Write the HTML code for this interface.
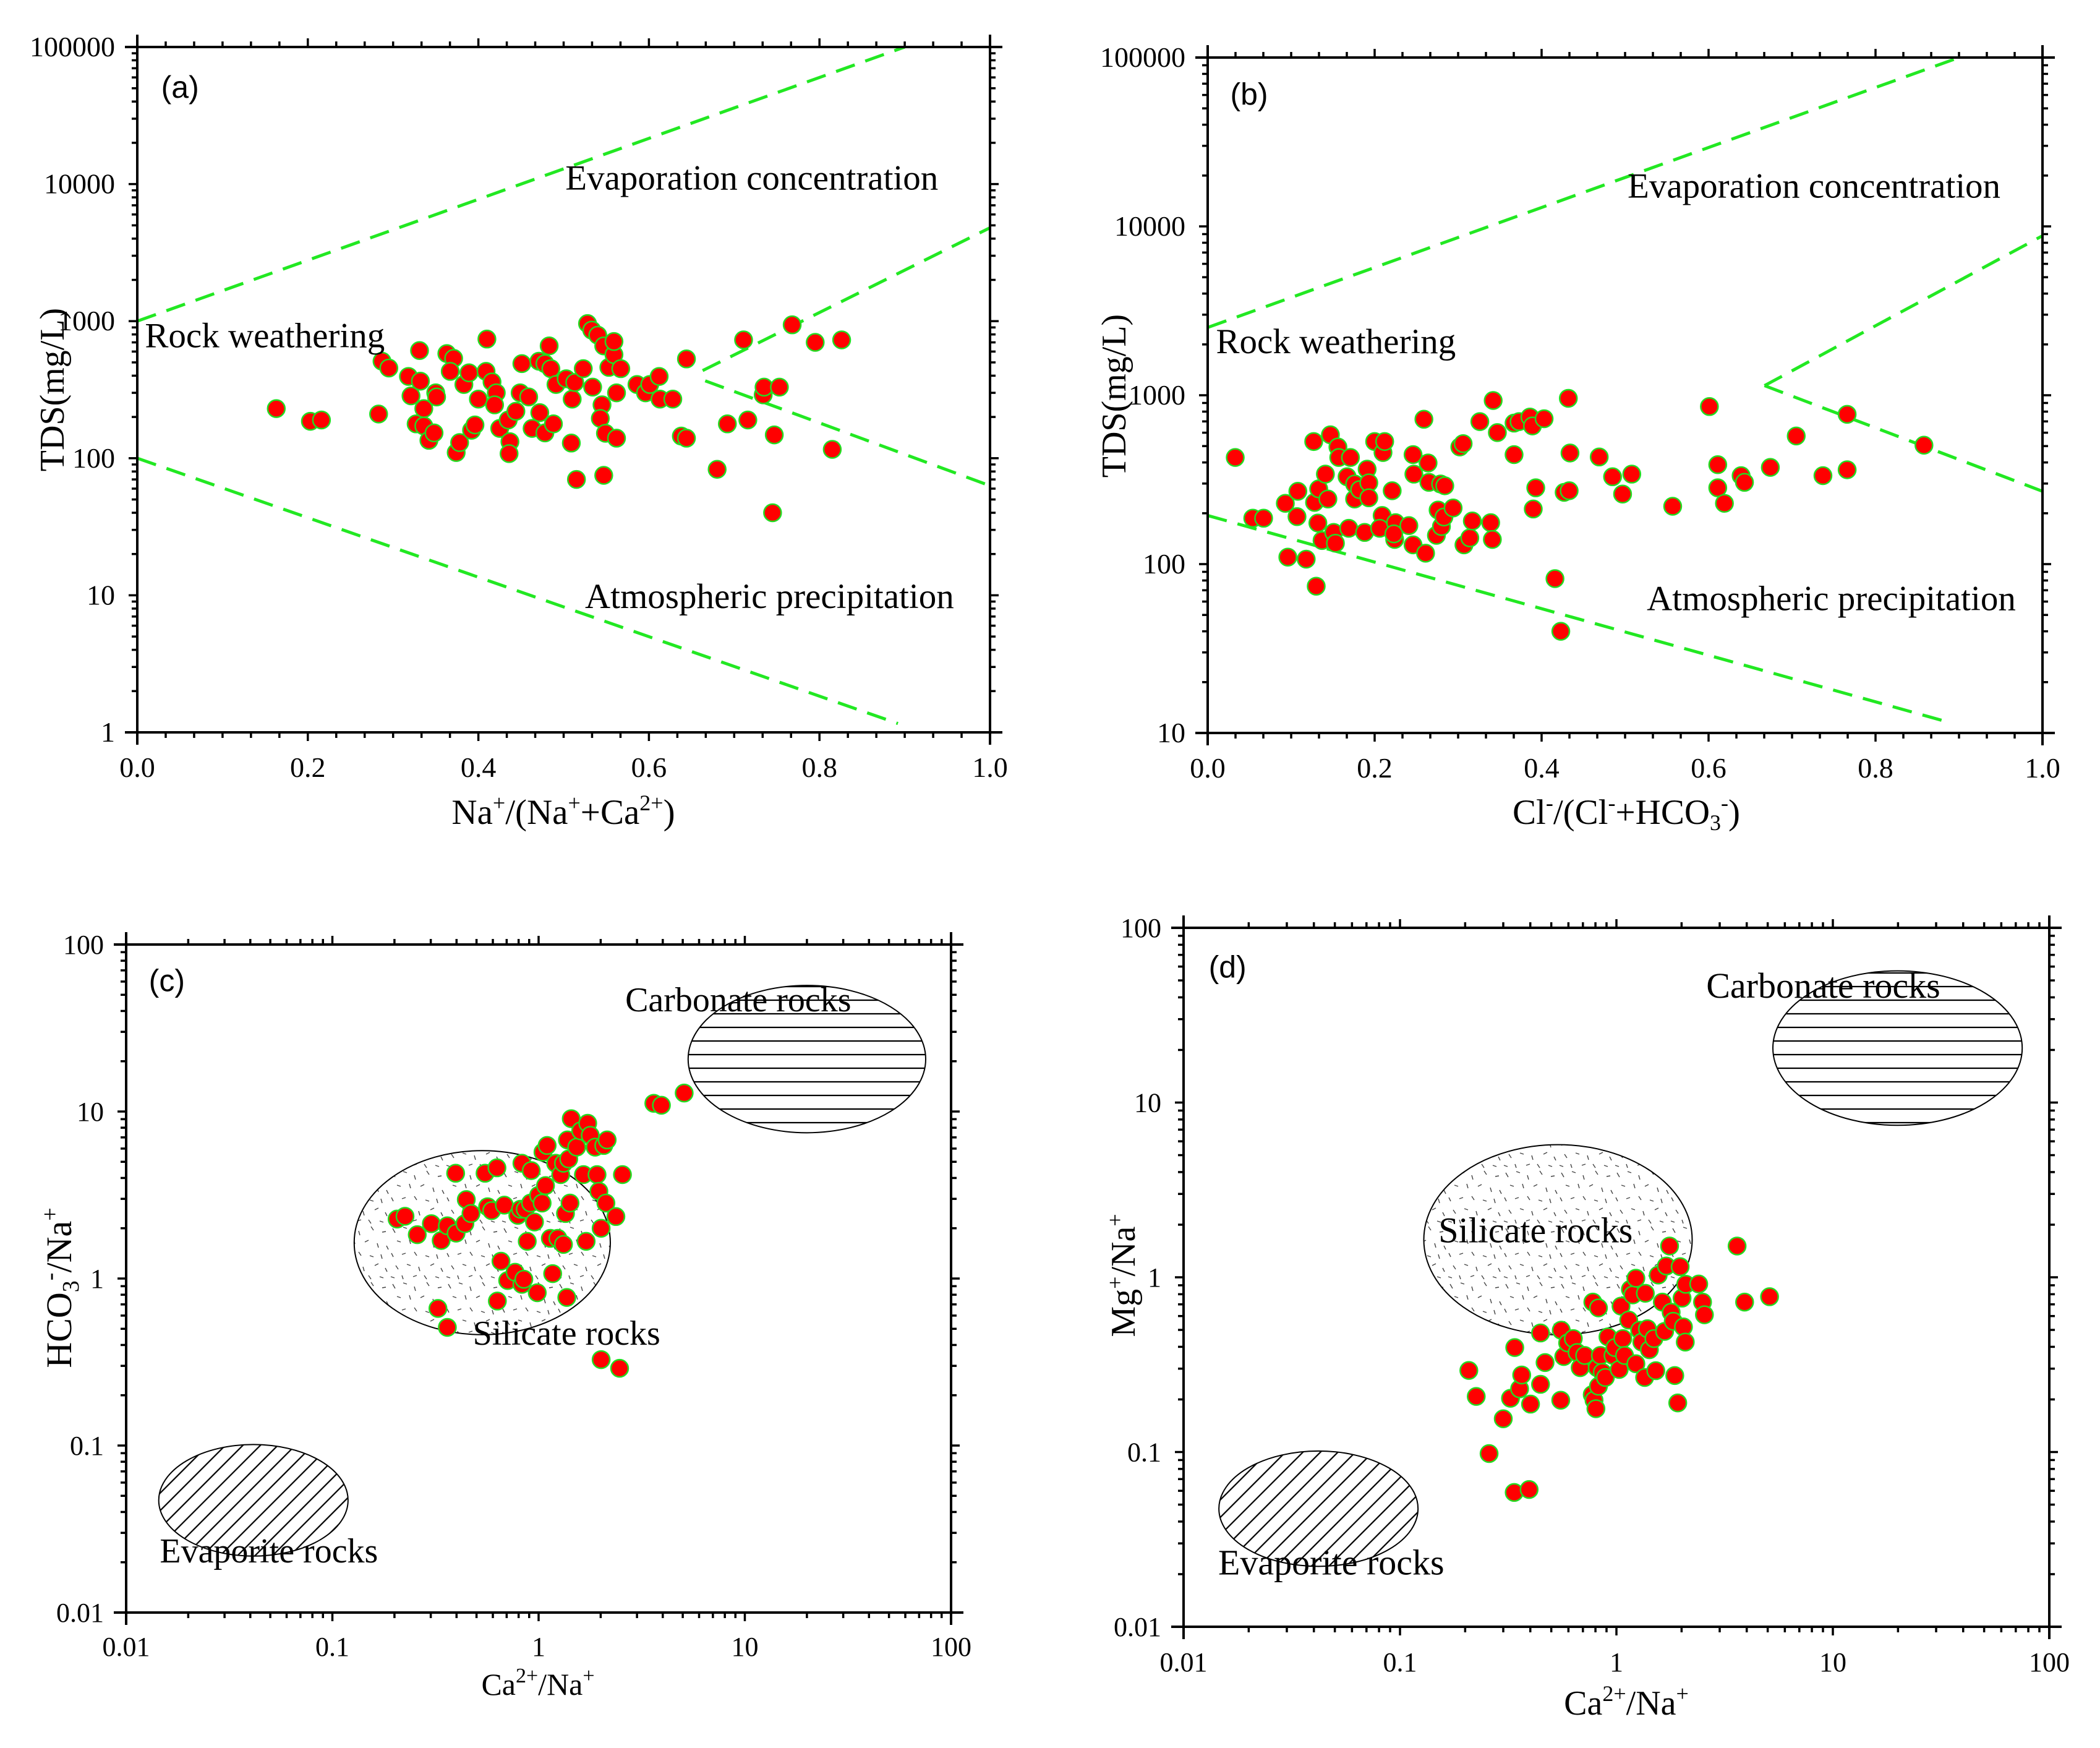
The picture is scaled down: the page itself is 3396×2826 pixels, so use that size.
<!DOCTYPE html>
<html><head><meta charset="utf-8"><style>
html,body{margin:0;padding:0;background:#fff;}
svg{display:block;}
text{font-family:"Liberation Serif",serif;fill:#000;}
.sans{font-family:"Liberation Sans",sans-serif;}
</style></head>
<body>
<svg id="fig" xmlns="http://www.w3.org/2000/svg" width="3396" height="2826" viewBox="0 0 3396 2826">
<defs>
<pattern id="hlines" patternUnits="userSpaceOnUse" width="40" height="22"><line x1="0" y1="11" x2="40" y2="11" stroke="#000" stroke-width="2.2"/></pattern>
<pattern id="dlines" patternUnits="userSpaceOnUse" width="20" height="20" patternTransform="rotate(-45)"><line x1="0" y1="10" x2="20" y2="10" stroke="#000" stroke-width="2.2"/></pattern>
<pattern id="stipple" patternUnits="userSpaceOnUse" width="90" height="90">
<g stroke="#444" stroke-width="1.4">
<line x1="5" y1="6" x2="9" y2="13"/><line x1="22" y1="4" x2="28" y2="6"/><line x1="40" y1="10" x2="42" y2="17"/><line x1="60" y1="3" x2="64" y2="9"/><line x1="78" y1="12" x2="84" y2="11"/>
<line x1="12" y1="26" x2="18" y2="28"/><line x1="32" y1="24" x2="34" y2="31"/><line x1="50" y1="28" x2="56" y2="25"/><line x1="70" y1="30" x2="72" y2="37"/><line x1="85" y1="34" x2="88" y2="40"/>
<line x1="3" y1="46" x2="6" y2="52"/><line x1="20" y1="48" x2="26" y2="46"/><line x1="40" y1="44" x2="44" y2="50"/><line x1="58" y1="50" x2="64" y2="52"/><line x1="76" y1="48" x2="78" y2="55"/>
<line x1="10" y1="66" x2="14" y2="72"/><line x1="28" y1="64" x2="34" y2="66"/><line x1="47" y1="68" x2="49" y2="75"/><line x1="66" y1="66" x2="72" y2="63"/><line x1="83" y1="70" x2="86" y2="76"/>
<line x1="2" y1="84" x2="8" y2="86"/><line x1="20" y1="82" x2="22" y2="88"/><line x1="38" y1="84" x2="44" y2="82"/><line x1="56" y1="82" x2="60" y2="88"/><line x1="74" y1="84" x2="80" y2="86"/>
</g></pattern>
</defs>
<g id="layer"></g>
</svg>
<script>
// ---- Panel (a) data ----
const aX=[.163,.203,.216,.283,.287,.295,.331,.318,.321,.332,.327,.336,.336,.342,.348,.350,.351,.363,.371,.367,.374,.378,.383,.389,.392,.396,.400,.410,.409,.416,.421,.419,.425,.435,.437,.436,.444,.449,.451,.459,.463,.472,.471,.478,.478,.483,.485,.488,.491,.503,.510,.509,.515,.513,.523,.528,.533,.540,.534,.547,.545,.543,.549,.547,.553,.559,.559,.562,.567,.562,.586,.596,.601,.612,.613,.628,.638,.644,.644,.680,.692,.716,.711,.734,.735,.753,.747,.745,.768,.795,.815,.826];
const aY=[230,186,190,210,510,455,610,395,285,365,178,172,230,135,153,300,280,580,535,430,110,130,345,420,160,175,270,740,430,360,300,245,165,190,132,108,220,300,490,280,165,215,510,490,153,660,450,178,345,380,270,129,70,357,450,960,860,790,330,660,245,195,152,75,460,570,710,300,450,140,345,300,345,395,270,270,145,140,530,83,178,190,730,290,330,330,148,40,940,700,116,730];
// ---- Panel (b) data ----
const bX=[.033,.054,.067,.093,.096,.108,.107,.118,.127,.128,.130,.133,.132,.137,.141,.144,.147,.151,.153,.156,.157,.169,.167,.171,.176,.176,.182,.188,.191,.193,.193,.200,.210,.212,.209,.206,.221,.224,.225,.223,.241,.246,.247,.246,.259,.261,.264,.265,.274,.276,.279,.280,.283,.284,.294,.302,.306,.307,.314,.317,.326,.339,.341,.342,.347,.367,.367,.373,.386,.389,.390,.393,.403,.416,.423,.427,.432,.434,.433,.469,.485,.497,.508,.557,.601,.611,.611,.619,.639,.643,.674,.705,.737,.766,.766,.858];
const bY=[428,187,187,229,110,270,191,107,532,232,74,279,175,138,341,243,583,154,133,494,428,163,329,428,298,243,276,154,365,303,247,532,458,532,194,163,272,140,176,151,169,445,341,130,721,116,397,305,148,209,298,167,190,291,215,494,517,130,143,180,698,176,140,931,601,684,445,698,743,658,212,283,726,82,40,266,959,455,272,431,329,260,341,220,857,388,283,229,334,305,374,574,334,771,362,506];
// ---- Panel (c) data ----
const cX=[.206,.225,.258,.302,.337,.361,.398,.396,.439,.446,.47,.325,.361,.55,.566,.592,.628,.657,.631,.682,.708,.769,.793,.817,.83,.83,.848,.861,.881,.914,.921,.955,.985,1.0,1.04,1.05,1.08,1.10,1.14,1.17,1.21,1.24,1.28,1.32,1.32,1.35,1.37,1.38,1.40,1.42,1.44,1.53,1.60,1.65,1.70,1.73,1.78,1.88,1.92,1.96,2.01,2.01,2.07,2.12,2.15,2.37,2.47,2.55,3.62,3.94,5.08];
const cY=[2.27,2.36,1.83,2.13,1.69,2.07,1.87,4.27,2.13,2.97,2.45,.662,.510,4.27,2.69,2.55,4.60,1.27,.733,2.75,.973,1.09,2.39,2.60,4.90,.923,.99,2.60,1.67,2.83,4.43,2.18,.822,3.15,2.83,5.71,3.60,6.26,1.74,1.07,4.90,1.74,4.19,4.90,1.60,2.45,.77,6.76,5.2,2.83,9.06,6.12,7.66,4.19,1.67,8.5,7.2,6.12,4.19,3.33,2.0,.327,6.26,2.83,6.76,2.35,.29,4.19,11.2,10.9,12.9];
// ---- Panel (d) data ----
const dX=[.208,.225,.258,.30,.324,.337,.395,.339,.357,.365,.401,.446,.446,.468,.553,.556,.571,.595,.632,.658,.68,.713,.773,.778,.788,.804,.815,.826,.826,.843,.860,.889,.914,.964,.984,1.03,1.05,1.07,1.09,1.14,1.16,1.19,1.23,1.23,1.28,1.31,1.35,1.36,1.39,1.42,1.49,1.52,1.56,1.63,1.67,1.70,1.76,1.79,1.83,1.86,1.92,1.97,2.01,2.04,2.08,2.09,2.40,2.50,2.55,3.61,3.91,5.1];
const dY=[.293,.208,.098,.155,.203,.0587,.061,.396,.230,.276,.188,.48,.244,.325,.198,.498,.352,.421,.446,.371,.304,.357,.213,.721,.198,.177,.304,.668,.238,.357,.286,.267,.456,.357,.396,.297,.684,.446,.357,.569,.853,.793,.988,.320,.498,.426,.267,.81,.508,.385,.446,.292,1.03,.721,.49,1.16,1.51,.631,.56,.274,.191,1.15,.76,.52,.426,.912,.915,.721,.61,1.51,.721,.774];
// ---- tick labels ----
const linTicks=[0,0.2,0.4,0.6,0.8,1.0];
const linTickLabels=["0.0","0.2","0.4","0.6","0.8","1.0"];
const tdsTicksA=[1,10,100,1000,10000,100000];
const tdsTicksB=[10,100,1000,10000,100000];
const logTicks=[0.01,0.1,1,10,100];
const logTickLabels=["0.01","0.1","1","10","100"];

const NS="http://www.w3.org/2000/svg";
const layer=document.getElementById('layer');
function mk(tag,attrs,parent){const e=document.createElementNS(NS,tag);for(const k in attrs)e.setAttribute(k,attrs[k]);(parent||layer).appendChild(e);return e;}
const L10=Math.log10;

function makePanel(c){
  c.sx=v=>c.xlog?c.x0+(L10(v)-L10(c.xmin))/(L10(c.xmax)-L10(c.xmin))*(c.x1-c.x0):c.x0+(v-c.xmin)/(c.xmax-c.xmin)*(c.x1-c.x0);
  c.sy=v=>c.y1-(L10(v)-L10(c.ymin))/(L10(c.ymax)-L10(c.ymin))*(c.y1-c.y0);
  const g=mk('g',{});
  
  
  c.g=g;
  return c;
}
function frame(c){
  const g=mk('g',{stroke:'#000','stroke-width':4,fill:'none'},c.g);
  
  
  const e=20;
  mk('line',{x1:c.x0-e,y1:c.y0,x2:c.x1+e,y2:c.y0},g);
  mk('line',{x1:c.x0-e,y1:c.y1,x2:c.x1+e,y2:c.y1},g);
  mk('line',{x1:c.x0,y1:c.y0-e,x2:c.x0,y2:c.y1+e},g);
  mk('line',{x1:c.x1,y1:c.y0-e,x2:c.x1,y2:c.y1+e},g);
  const tg=mk('g',{stroke:'#000','stroke-width':3.5},c.g);
  
  
  function xt(px,len){mk('line',{x1:px,y1:c.y1,x2:px,y2:c.y1+len},tg);mk('line',{x1:px,y1:c.y0,x2:px,y2:c.y0-len},tg);}
  function yt(py,len){mk('line',{x1:c.x0,y1:py,x2:c.x0-len,y2:py},tg);mk('line',{x1:c.x1,y1:py,x2:c.x1+len,y2:py},tg);}
  if(c.xlog){
    for(let d=L10(c.xmin);d<L10(c.xmax);d++){for(let m=1;m<10;m++){xt(c.sx(m*Math.pow(10,d)),m==1?14:9);}}
    xt(c.sx(c.xmax),14);
  } else {
    for(let i=0;i<=30;i++){xt(c.sx(i/30),i%6==0?14:9);}
  }
  for(let d=L10(c.ymin);d<L10(c.ymax);d++){for(let m=1;m<10;m++){yt(c.sy(m*Math.pow(10,d)),m==1?14:9);}}
  yt(c.sy(c.ymax),14);
}
function tickLabels(c,xv,xl,yv,yl,fs,dy){
  const g=mk('g',{'font-size':fs},c.g);
  
  
  xv.forEach((v,i)=>{const t=mk('text',{x:c.sx(v),y:c.y1+(dy||72),'text-anchor':'middle'},g);t.textContent=xl[i];});
  yv.forEach((v,i)=>{const t=mk('text',{x:c.x0-36,y:c.sy(v)+15,'text-anchor':'end'},g);t.textContent=yl[i];});
}
function dashed(c,pts,name){
  const p=mk('polyline',{points:pts.map(q=>c.sx(q[0])+','+c.sy(q[1])).join(' '),stroke:'#22e822','stroke-width':5,'stroke-dasharray':'32 18',fill:'none'},c.g);
  
  
}
function scatter(c,X,Y){
  const g=mk('g',{fill:'#ff0000',stroke:'#22dd22','stroke-width':2.5},c.g);
  
  
  X.forEach((x,i)=>{const e=mk('circle',{cx:c.sx(x),cy:c.sy(Y[i]),r:14},g);
    
    });
}
function label(c,x,y,txt,fs,name,cls){
  const t=mk('text',{x:c.sx(x),y:c.sy(y),'font-size':fs},c.g);
  if(cls)t.setAttribute('class',cls);
  t.textContent=txt;
  
  
  return t;
}
function ell(c,cx,cy,rxd,ryd,fill,name){
  const pdx=(c.x1-c.x0)/(L10(c.xmax)-L10(c.xmin)),pdy=(c.y1-c.y0)/(L10(c.ymax)-L10(c.ymin));
  const e=mk('ellipse',{cx:c.sx(cx),cy:c.sy(cy),rx:rxd*pdx,ry:ryd*pdy,fill:fill,stroke:'#000','stroke-width':2},c.g);
  
  
}
function rawText(c,x,y,html,fs,rot,name){
  const t=mk('text',{x:x,y:y,'font-size':fs,'text-anchor':'middle'},c.g);
  if(rot)t.setAttribute('transform','rotate(-90 '+x+' '+y+')');
  t.innerHTML=html;
  
  
}
const RL=57;

// Panel (a)
const A=makePanel({id:'a',x0:222,x1:1601,y0:76,y1:1184,xlog:false,xmin:0,xmax:1,ymin:1,ymax:100000});
dashed(A,[[0,1000],[0.9,100000]],'evaporation-line');
dashed(A,[[0.663,436],[1.0,4800]],'upper-right-line');
dashed(A,[[0.666,367],[1.0,63]],'lower-right-line');
dashed(A,[[0,100],[0.892,1.16]],'precipitation-line');
scatter(A,aX,aY);
frame(A);
tickLabels(A,linTicks,linTickLabels,tdsTicksA,tdsTicksA.map(String),46);
label(A,.028,Math.pow(10,4.63),'(a)',50,'panel-label-a','sans');
label(A,.502,Math.pow(10,3.96),'Evaporation concentration',RL,'evaporation-label');
label(A,.009,Math.pow(10,2.81),'Rock weathering',RL,'rock-weathering-label');
label(A,.525,Math.pow(10,0.908),'Atmospheric precipitation',RL,'precipitation-label');
rawText(A,103,630,'TDS(mg/L)',56,true,'y-axis-title');
rawText(A,911,1332,'Na<tspan dy="-22" font-size="36">+</tspan><tspan dy="22">/(Na</tspan><tspan dy="-22" font-size="36">+</tspan><tspan dy="22">+Ca</tspan><tspan dy="-22" font-size="36">2+</tspan><tspan dy="22">)</tspan>',57,false,'x-axis-title');

// Panel (b)
const B=makePanel({id:'b',x0:1953,x1:3303,y0:93,y1:1185,xlog:false,xmin:0,xmax:1,ymin:10,ymax:100000});
dashed(B,[[0,2520],[0.9,100000]],'evaporation-line');
dashed(B,[[0.667,1140],[1.0,8800]],'upper-right-line');
dashed(B,[[0.667,1140],[1.0,270]],'lower-right-line');
dashed(B,[[0,194],[0.887,11.6]],'precipitation-line');
scatter(B,bX,bY);
frame(B);
tickLabels(B,linTicks,linTickLabels,tdsTicksB,tdsTicksB.map(String),46);
label(B,.027,Math.pow(10,4.72),'(b)',50,'panel-label-b','sans');
label(B,.503,Math.pow(10,4.17),'Evaporation concentration',RL,'evaporation-label');
label(B,.01,Math.pow(10,3.25),'Rock weathering',RL,'rock-weathering-label');
label(B,.526,Math.pow(10,1.727),'Atmospheric precipitation',RL,'precipitation-label');
rawText(B,1820,640,'TDS(mg/L)',56,true,'y-axis-title');
rawText(B,2630,1332,'Cl<tspan dy="-22" font-size="36">-</tspan><tspan dy="22">/(Cl</tspan><tspan dy="-22" font-size="36">-</tspan><tspan dy="22">+HCO</tspan><tspan dy="10" font-size="36">3</tspan><tspan dy="-32" font-size="36">-</tspan><tspan dy="22">)</tspan>',57,false,'x-axis-title');

// Panel (c)
const C=makePanel({id:'c',x0:204,x1:1538,y0:1527,y1:2607,xlog:true,xmin:0.01,xmax:100,ymin:0.01,ymax:100});
ell(C,0.533,1.64,0.621,0.551,'url(#stipple)','silicate-ellipse');
ell(C,20,20.6,0.576,0.441,'url(#hlines)','carbonate-ellipse');
ell(C,0.0414,0.047,0.459,0.334,'url(#dlines)','evaporite-ellipse');
scatter(C,cX,cY);
frame(C);
tickLabels(C,logTicks,logTickLabels,logTicks,logTickLabels,44,70);
label(C,Math.pow(10,-1.89),Math.pow(10,1.72),'(c)',50,'panel-label-c','sans');
label(C,Math.pow(10,0.42),Math.pow(10,1.6),'Carbonate rocks',56,'carbonate-label');
label(C,Math.pow(10,-0.319),Math.pow(10,-0.396),'Silicate rocks',56,'silicate-label');
label(C,Math.pow(10,-1.837),Math.pow(10,-1.70),'Evaporite rocks',56,'evaporite-label');
rawText(C,115,2082,'HCO<tspan dy="12" font-size="38">3</tspan><tspan dy="-34" font-size="38">-</tspan><tspan dy="22">/Na</tspan><tspan dy="-22" font-size="38">+</tspan>',58,true,'y-axis-title');
rawText(C,870,2740,'Ca<tspan dy="-20" font-size="34">2+</tspan><tspan dy="20">/Na</tspan><tspan dy="-20" font-size="34">+</tspan>',50,false,'x-axis-title');

// Panel (d)
const D=makePanel({id:'d',x0:1914,x1:3314,y0:1500,y1:2630,xlog:true,xmin:0.01,xmax:100,ymin:0.01,ymax:100});
ell(D,0.537,1.64,0.620,0.544,'url(#stipple)','silicate-ellipse');
ell(D,19.9,20.5,0.576,0.442,'url(#hlines)','carbonate-ellipse');
ell(D,0.042,0.0474,0.46,0.33,'url(#dlines)','evaporite-ellipse');
scatter(D,dX,dY);
frame(D);
tickLabels(D,logTicks,logTickLabels,logTicks,logTickLabels,44);
label(D,Math.pow(10,-1.884),Math.pow(10,1.715),'(d)',50,'panel-label-d','sans');
label(D,Math.pow(10,0.415),Math.pow(10,1.6),'Carbonate rocks',58,'carbonate-label');
label(D,Math.pow(10,-0.822),Math.pow(10,0.2),'Silicate rocks',58,'silicate-label');
label(D,Math.pow(10,-1.84),Math.pow(10,-1.70),'Evaporite rocks',58,'evaporite-label');
rawText(D,1835,2062,'Mg<tspan dy="-20" font-size="36">+</tspan><tspan dy="20">/Na</tspan><tspan dy="-20" font-size="36">+</tspan>',56,true,'y-axis-title');
rawText(D,2630,2772,'Ca<tspan dy="-22" font-size="36">2+</tspan><tspan dy="22">/Na</tspan><tspan dy="-22" font-size="36">+</tspan>',56,false,'x-axis-title');
</script>
</body></html>
